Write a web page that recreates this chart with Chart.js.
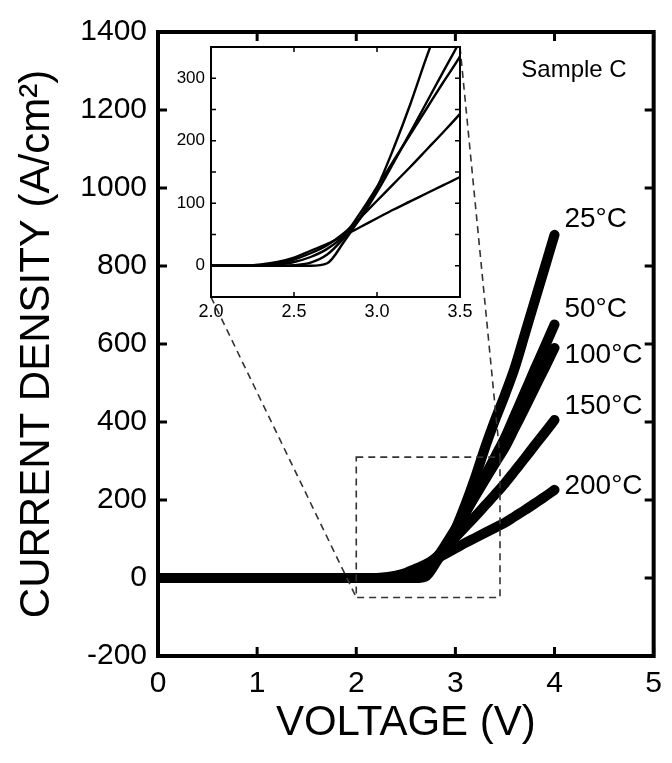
<!DOCTYPE html>
<html>
<head>
<meta charset="utf-8">
<title>Sample C J-V</title>
<script src="https://cdn.jsdelivr.net/npm/chart.js@4.4.1/dist/chart.umd.min.js"></script>
<style>
    html, body { margin: 0; padding: 0; background: #fff; }
    #wrap { position: relative; width: 672px; height: 763px; }
    #mainBox { position: absolute; left: 0; top: 0; width: 672px; height: 763px; }
    #insetBox { position: absolute; left: 150px; top: 30px; width: 330px; height: 300px; }
</style>
</head>
<body>
<div id="wrap">
    <div id="mainBox"><canvas id="mainChart"></canvas></div>
    <div id="insetBox"><canvas id="insetChart"></canvas></div>
</div>
<script>
// Voltage points (V) and current density (A/cm2)
const voltage = [0, 0.5, 1.0, 1.5, 2.0, 2.1, 2.2, 2.3, 2.4, 2.5, 2.6, 2.7, 2.8, 2.9, 3.0, 3.1, 3.2, 3.3, 3.4, 3.5, 3.6, 3.7, 3.8, 3.9, 4.0];
const j25  = [0, 0, 0, 0, 0, 0, 0, 0, 0, 0, 0, 4, 38, 78, 125, 188, 258, 335, 405, 470, 540, 625, 710, 795, 880];
const j50  = [0, 0, 0, 0, 0, 0, 0, 0, 0, 1, 5, 18, 44, 76, 118, 165, 213, 262, 311, 360, 418, 476, 535, 592, 650];
const j100 = [0, 0, 0, 0, 0, 0, 0, 0, 2, 6, 14, 27, 48, 85, 126, 168, 210, 252, 294, 335, 385, 435, 487, 538, 590];
const j150 = [0, 0, 0, 0, 0, 0, 0, 1, 4, 10, 20, 33, 52, 77, 104, 131, 158, 186, 214, 243, 275, 307, 340, 372, 405];
const j200 = [0, 0, 0, 0, 0, 0, 0, 2, 6, 13, 24, 35, 48, 62, 76, 90, 103, 116, 129, 142, 158, 174, 191, 208, 226];

const seriesList = [j25, j50, j100, j150, j200];
const tempLabels = ['25°C', '50°C', '100°C', '150°C', '200°C'];
const labelJ = [920, 690, 570, 440, 235];   // where the temperature labels sit
const labelV = 4.1;

// dashed zoom box on the main plot
const zoomBoxV = [2.0, 3.45];
const zoomBoxJ = [-50, 310];

const FONT = '"Liberation Sans", Arial, Helvetica, sans-serif';
Chart.defaults.font.family = FONT;
Chart.defaults.color = '#000';

function toPoints(arr) {
    return voltage.map((v, i) => ({ x: v, y: arr[i] }));
}

// frame on all four sides with inward tick marks
const frameTicks = {
    id: 'frameTicks',
    afterDatasetsDraw(chart, args, opts) {
        const { ctx, chartArea: a, scales: { x, y } } = chart;
        ctx.save();
        ctx.strokeStyle = '#000';
        ctx.lineWidth = opts.tickWidth;
        ctx.beginPath();
        x.ticks.forEach(t => {
            const px = x.getPixelForValue(t.value);
            ctx.moveTo(px, a.bottom); ctx.lineTo(px, a.bottom - opts.len);
            ctx.moveTo(px, a.top); ctx.lineTo(px, a.top + opts.len);
        });
        y.ticks.forEach(t => {
            const py = y.getPixelForValue(t.value);
            ctx.moveTo(a.left, py); ctx.lineTo(a.left + opts.len, py);
            ctx.moveTo(a.right, py); ctx.lineTo(a.right - opts.len, py);
        });
        ctx.stroke();
        ctx.lineWidth = opts.frameWidth;
        ctx.strokeRect(a.left, a.top, a.right - a.left, a.bottom - a.top);
        ctx.restore();
    }
};

let insetChart = null;

// zoom box, connectors and text labels on the main chart
const mainExtras = {
    id: 'mainExtras',
    afterDatasetsDraw(chart) {
        const { ctx, chartArea: a, scales: { x, y } } = chart;
        ctx.save();

        // dashed box
        const bx1 = x.getPixelForValue(zoomBoxV[0]);
        const bx2 = x.getPixelForValue(zoomBoxV[1]);
        const by1 = y.getPixelForValue(zoomBoxJ[1]);
        const by2 = y.getPixelForValue(zoomBoxJ[0]);
        ctx.strokeStyle = '#333';
        ctx.lineWidth = 1.6;
        ctx.setLineDash([7, 5]);
        ctx.strokeRect(bx1, by1, bx2 - bx1, by2 - by1);

        // connectors to the inset frame
        if (insetChart) {
            const mr = chart.canvas.getBoundingClientRect();
            const ir = insetChart.canvas.getBoundingClientRect();
            const dx = ir.left - mr.left, dy = ir.top - mr.top;
            const ia = insetChart.chartArea;
            ctx.beginPath();
            ctx.moveTo(dx + ia.left, dy + ia.bottom);
            ctx.lineTo(bx1, by2);
            ctx.moveTo(dx + ia.right, dy + ia.top);
            ctx.lineTo(bx2, by1);
            ctx.stroke();
        }
        ctx.setLineDash([]);

        // temperature labels
        ctx.fillStyle = '#000';
        ctx.font = '28px ' + FONT;
        ctx.textAlign = 'left';
        ctx.textBaseline = 'middle';
        tempLabels.forEach((t, i) => {
            ctx.fillText(t, x.getPixelForValue(labelV), y.getPixelForValue(labelJ[i]));
        });

        ctx.font = '24px ' + FONT;
        ctx.textAlign = 'right';
        ctx.fillText('Sample C', a.right - 27, a.top + 38);
        ctx.restore();
    }
};

const insetWhite = {
    id: 'insetWhite',
    beforeDatasetsDraw(chart) {
        const { ctx, chartArea: a } = chart;
        ctx.save();
        ctx.fillStyle = '#fff';
        ctx.fillRect(a.left, a.top, a.right - a.left, a.bottom - a.top);
        ctx.restore();
    }
};

function makeDatasets(width) {
    return seriesList.map((arr, i) => ({
        label: tempLabels[i],
        data: toPoints(arr),
        showLine: true,
        borderColor: '#000',
        backgroundColor: '#000',
        borderWidth: width,
        borderCapStyle: 'round',
        borderJoinStyle: 'round',
        pointRadius: 0,
        cubicInterpolationMode: 'monotone'
    }));
}

// inset first, so the main chart can find its frame
insetChart = new Chart(document.getElementById('insetChart').getContext('2d'), {
    type: 'scatter',
    data: { datasets: makeDatasets(2.4) },
    options: {
        responsive: true,
        maintainAspectRatio: false,
        animation: false,
        layout: { padding: { top: 17, right: 20, left: 0, bottom: 0 } },
        plugins: {
            legend: { display: false },
            tooltip: { enabled: false },
            frameTicks: { len: 5, tickWidth: 1.5, frameWidth: 2 }
        },
        scales: {
            x: {
                type: 'linear',
                min: 2.0,
                max: 3.5,
                grid: { display: false, drawTicks: false },
                border: { display: false },
                ticks: { stepSize: 0.5, padding: 4, font: { size: 18 }, color: '#000',
                         callback: v => v.toFixed(1) },
                afterFit: s => { s.height = 33; }
            },
            y: {
                type: 'linear',
                min: -50,
                max: 350,
                grid: { display: false, drawTicks: false },
                border: { display: false },
                ticks: { stepSize: 50, padding: 6, font: { size: 17 }, color: '#000',
                         callback: v => (v % 100 === 0 ? String(v) : '') },
                afterFit: s => { s.width = 61; }
            }
        }
    },
    plugins: [insetWhite, frameTicks]
});

new Chart(document.getElementById('mainChart').getContext('2d'), {
    type: 'scatter',
    data: { datasets: makeDatasets(10) },
    options: {
        responsive: true,
        maintainAspectRatio: false,
        animation: false,
        layout: { padding: { top: 32, right: 14, left: 0, bottom: 0 } },
        plugins: {
            legend: { display: false },
            tooltip: { enabled: false },
            frameTicks: { len: 9, tickWidth: 3, frameWidth: 4 }
        },
        scales: {
            x: {
                type: 'linear',
                min: 0,
                max: 5,
                grid: { display: false, drawTicks: false },
                border: { display: false },
                ticks: { stepSize: 1, padding: 10, font: { size: 30 }, color: '#000',
                         callback: v => String(v) },
                title: {
                    display: true,
                    text: 'VOLTAGE (V)',
                    font: { size: 42 },
                    color: '#000',
                    padding: { top: 0, bottom: 14 }
                },
                afterFit: s => { s.height = 107; }
            },
            y: {
                type: 'linear',
                min: -200,
                max: 1400,
                grid: { display: false, drawTicks: false },
                border: { display: false },
                ticks: { stepSize: 200, padding: 11, font: { size: 30 }, color: '#000',
                         callback: v => String(v) },
                title: {
                    display: true,
                    text: 'CURRENT DENSITY (A/cm²)',
                    font: { size: 42 },
                    color: '#000',
                    padding: { top: 12, bottom: 0 }
                },
                afterFit: s => { s.width = 158; }
            }
        }
    },
    plugins: [frameTicks, mainExtras]
});
</script>
</body>
</html>
